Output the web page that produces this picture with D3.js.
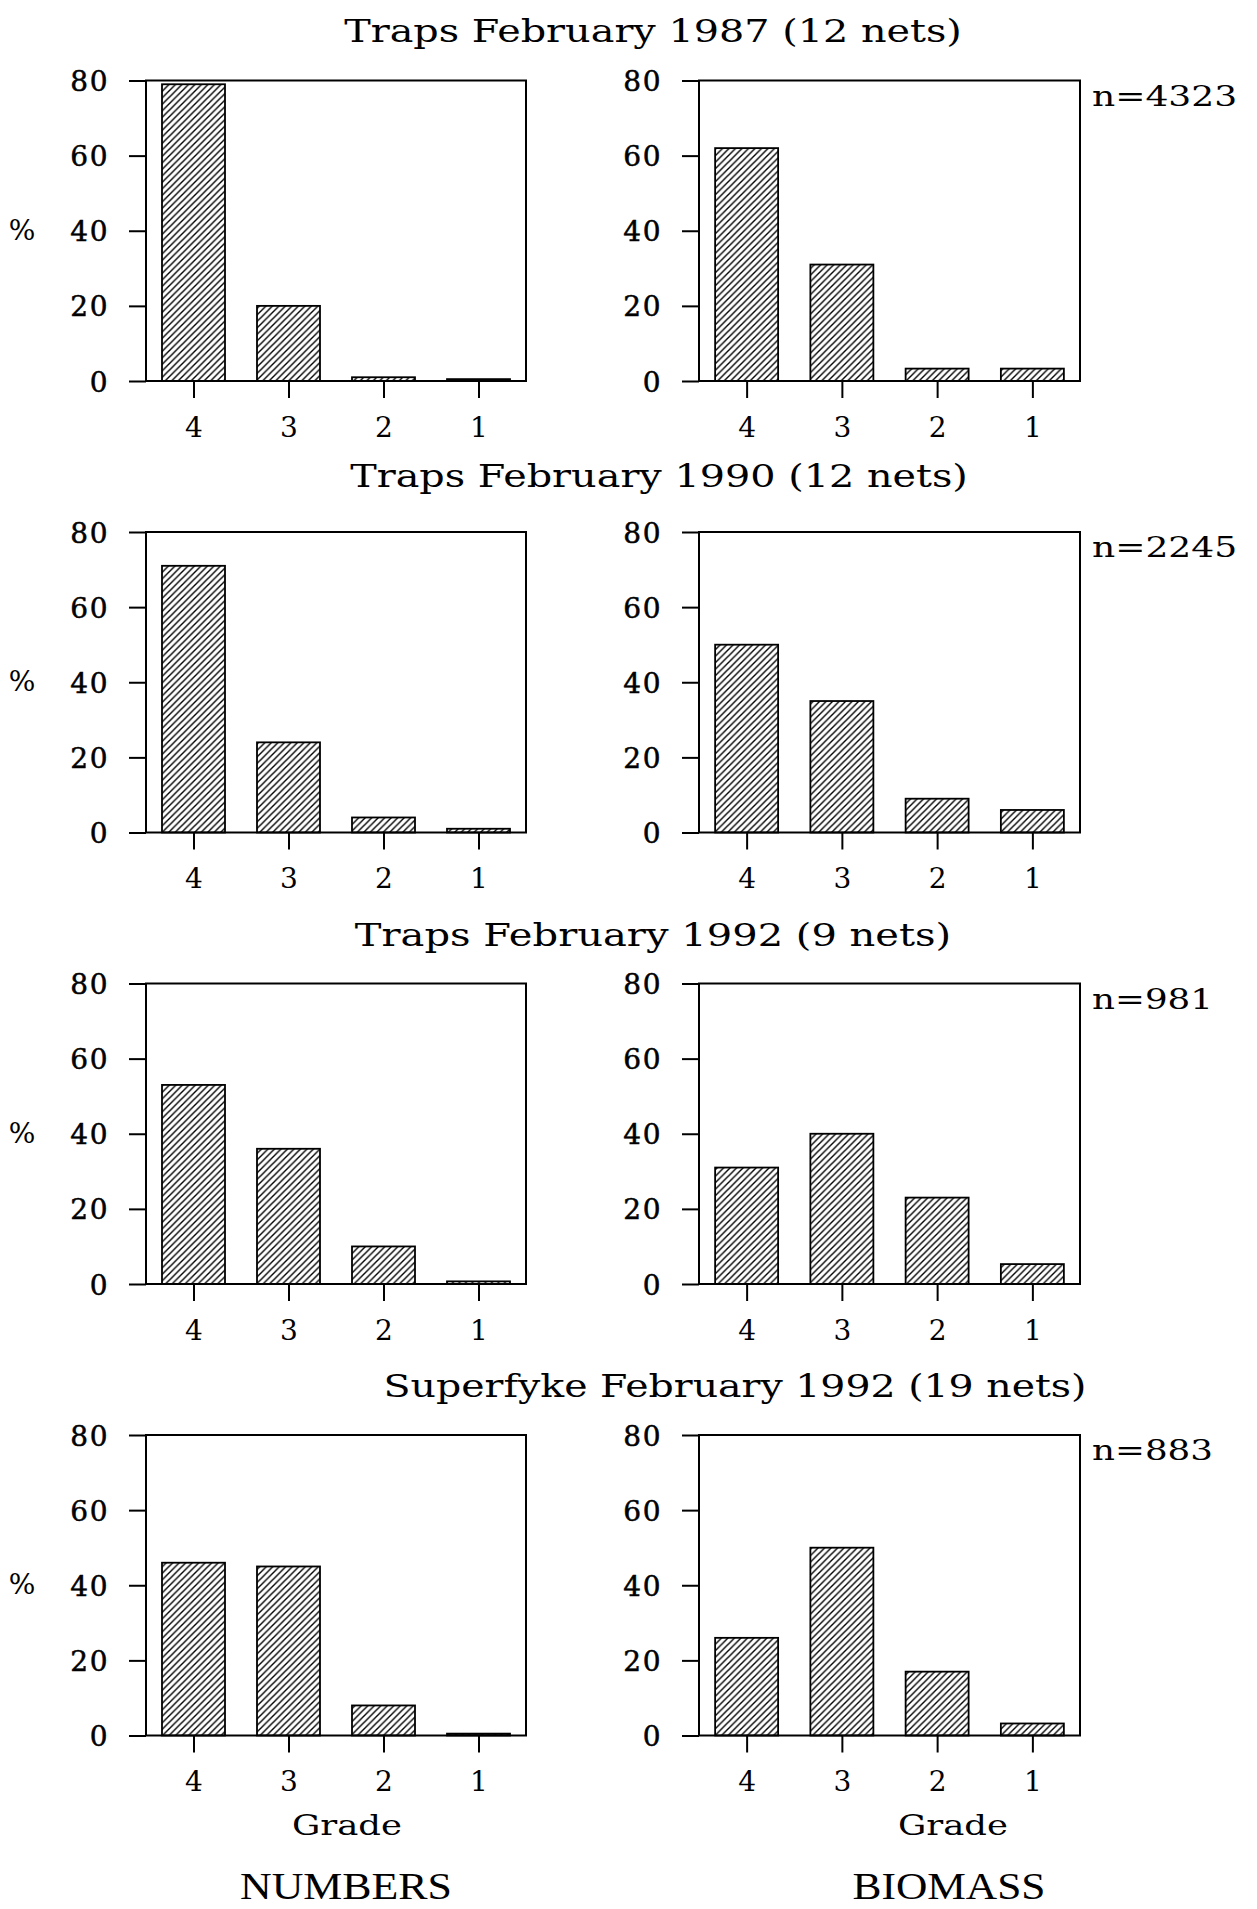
<!DOCTYPE html>
<html>
<head>
<meta charset="utf-8">
<script src="https://cdn.jsdelivr.net/npm/d3@7"></script>
<style>
  html, body { margin: 0; padding: 0; background: #fff; }
  svg text { fill: #000; }
</style>
</head>
<body>
<div id="chart"></div>
<script>
// Data (percent by grade)
const grades = ['4', '3', '2', '1'];
const yTicks = [0, 20, 40, 60, 80];
const titles = [
    'Traps February 1987 (12 nets)',
    'Traps February 1990 (12 nets)',
    'Traps February 1992 (9 nets)',
    'Superfyke February 1992 (19 nets)'
];
const nLabels = ['n=4323', 'n=2245', 'n=981', 'n=883'];
const numbersPct = [
    [79, 20, 1, 0.5],
    [71, 24, 4, 1],
    [53, 36, 10, 0.7],
    [46, 45, 8, 0.5]
];
const biomassPct = [
    [62, 31, 3.3, 3.3],
    [50, 35, 9, 6],
    [31, 40, 23, 5.3],
    [26, 50, 17, 3.2]
];

// Layout
const width = 1257, height = 1909;
const rowTop = 80.5, rowStep = 451.5, plotH = 300.5;
const cols = [
    { x: 146, w: 380, values: numbersPct, footer: 'NUMBERS', footerX: 346, footerW: 212, gradeX: 347 },
    { x: 699, w: 381, values: biomassPct, footer: 'BIOMASS', footerX: 949, footerW: 193, gradeX: 953 }
];
const titleX = [653, 659, 653, 735];
const titleDy = [-39, -45, -38, -38];
const serif = '"DejaVu Serif", serif';

const svg = d3.select('#chart')
    .append('svg')
    .attr('width', width)
    .attr('height', height);

// Hatch pattern (thin "/" lines)
const hs = 6.5;
const pat = svg.append('defs').append('pattern')
    .attr('id', 'hatch')
    .attr('patternUnits', 'userSpaceOnUse')
    .attr('width', hs)
    .attr('height', hs);
pat.append('rect').attr('width', hs).attr('height', hs).attr('fill', '#fff');
pat.append('path')
    .attr('d', `M-1,1 l2,-2 M0,${hs} l${hs},${-hs} M${hs - 1},${hs + 1} l2,-2`)
    .attr('stroke', '#000')
    .attr('stroke-width', 1.4);

const y = d3.scaleLinear().domain([0, 80]);

titles.forEach((title, r) => {
    const top = rowTop + r * rowStep;
    const bottom = top + plotH;
    y.range([bottom, top]);

    svg.append('text')
        .attr('x', titleX[r])
        .attr('y', top + titleDy[r])
        .attr('text-anchor', 'middle')
        .attr('font-family', serif)
        .attr('font-size', 31)
        .attr('textLength', title.length * 21.3)
        .attr('lengthAdjust', 'spacingAndGlyphs')
        .text(title);

    cols.forEach((col, c) => {
        const g = svg.append('g');
        const x = d3.scalePoint()
            .domain(grades)
            .range([col.x, col.x + col.w])
            .padding(0.5);
        const barW = 63;

        // bars
        g.selectAll('.bar')
            .data(col.values[r])
            .enter()
            .append('rect')
            .attr('x', (d, i) => x(grades[i]) - barW / 2)
            .attr('y', d => y(d))
            .attr('width', barW)
            .attr('height', d => bottom - y(d))
            .attr('fill', 'url(#hatch)')
            .attr('stroke', '#000')
            .attr('stroke-width', 1.8);

        // frame
        g.append('rect')
            .attr('x', col.x)
            .attr('y', top)
            .attr('width', col.w)
            .attr('height', plotH)
            .attr('fill', 'none')
            .attr('stroke', '#000')
            .attr('stroke-width', 2);

        // y axis
        const yAxis = d3.axisLeft(y)
            .tickValues(yTicks)
            .tickSize(17)
            .tickPadding(20)
            .tickFormat(d3.format('d'));
        const ya = g.append('g')
            .attr('transform', `translate(${col.x},0)`)
            .call(yAxis);
        ya.select('.domain').remove();
        ya.selectAll('line').attr('stroke-width', 2);
        ya.selectAll('text')
            .attr('font-family', serif)
            .attr('font-size', 28)
            .attr('letter-spacing', 1.5)
            .attr('stroke', '#000')
            .attr('stroke-width', 0.5)
            .attr('dy', '0.36em');

        // x axis
        const xAxis = d3.axisBottom(x)
            .tickSize(17)
            .tickPadding(19);
        const xa = g.append('g')
            .attr('transform', `translate(0,${bottom})`)
            .call(xAxis);
        xa.select('.domain').remove();
        xa.selectAll('line').attr('stroke-width', 2);
        xa.selectAll('text')
            .attr('font-family', serif)
            .attr('font-size', 28);

        if (c === 0) {
            svg.append('text')
                .attr('x', 22)
                .attr('y', (top + bottom) / 2 + 9)
                .attr('text-anchor', 'middle')
                .attr('font-family', serif)
                .attr('font-size', 28)
                .text('%');
        } else {
            const lbl = nLabels[r];
            svg.append('text')
                .attr('x', 1092)
                .attr('y', top + 25)
                .attr('font-family', serif)
                .attr('font-size', 28)
                .attr('textLength', lbl.length * 24.2)
                .attr('lengthAdjust', 'spacingAndGlyphs')
                .text(lbl);
        }

        if (r === titles.length - 1) {
            svg.append('text')
                .attr('x', col.gradeX)
                .attr('y', bottom + 99)
                .attr('text-anchor', 'middle')
                .attr('font-family', serif)
                .attr('font-size', 28)
                .attr('textLength', 110)
                .attr('lengthAdjust', 'spacingAndGlyphs')
                .text('Grade');
            svg.append('text')
                .attr('x', col.footerX)
                .attr('y', 1899)
                .attr('text-anchor', 'middle')
                .attr('font-family', '"Liberation Serif", serif')
                .attr('font-size', 38)
                .attr('textLength', col.footerW)
                .attr('lengthAdjust', 'spacingAndGlyphs')
                .text(col.footer);
        }
    });
});
</script>
</body>
</html>
